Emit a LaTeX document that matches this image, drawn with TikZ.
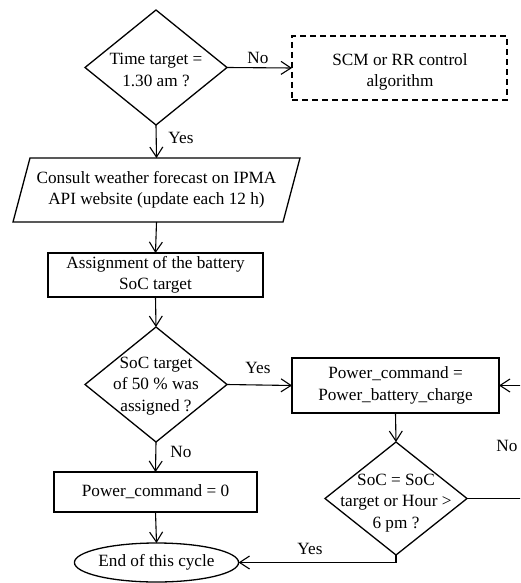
\documentclass[tikz,border=0pt]{standalone}
\usepackage{fontspec}
\setmainfont{Liberation Serif}
\usetikzlibrary{shapes.geometric,arrows.meta}
\begin{document}
\begin{tikzpicture}[x=1pt,y=-1pt,
  every node/.style={font=\fontsize{17.2}{21.5}\selectfont},
  box/.style={draw,line width=1.3pt,rectangle,inner sep=0pt,outer sep=0pt,align=center},
  dbox/.style={box,dashed,dash pattern=on 6pt off 4pt},
  dia/.style={draw,line width=1.3pt,diamond,inner sep=0pt,outer sep=0pt,minimum width=142pt},
  txt/.style={align=center,inner sep=0pt},
  lbl/.style={inner sep=0pt},
  arr/.style={line width=1.1pt,-{Straight Barb[length=10pt,width=13pt,line width=1.1pt]}},
  ln/.style={line width=1.1pt}]
\useasboundingbox (0,0) rectangle (520,583);
\clip (0,0) rectangle (520,583);
% nodes
\node[dia,minimum height=115pt] (d1) at (156,67.5) {};
\node[txt] (t1) at (156,70) {Time target =\\1.30 am ?};
\node[dbox,minimum width=215pt,minimum height=64pt] (sc) at (399.5,68) {};
\node[txt] (tsc) at (400,72) {SCM or RR control\\algorithm};
\node[rectangle,inner sep=0pt,outer sep=0pt,minimum width=270pt,minimum height=64pt,align=center] (pg) at (156.5,190) {Consult weather forecast on IPMA\\API website (update each 12 h)};
\draw[line width=1.3pt] ([xshift=8.5pt]pg.north west) -- ([xshift=8.5pt]pg.north east) -- ([xshift=-8.5pt]pg.south east) -- ([xshift=-8.5pt]pg.south west) -- cycle;
\node[box,minimum width=215pt,minimum height=44pt] (as) at (155.5,275) {Assignment of the battery\\SoC target};
\node[dia,minimum height=115pt] (d2) at (156,384.5) {};
\node[txt] (t2) at (156,386) {SoC target\\of 50 \% was\\assigned ?};
\node[box,minimum width=207pt,minimum height=55pt] (pw) at (395.5,385.5) {Power\_command =\\Power\_battery\_charge};
\node[dia,minimum height=113pt] (d3) at (396,498.5) {};
\node[txt] (t3) at (396,503) {SoC = SoC\\target or Hour >\\6 pm ?};
\node[box,minimum width=203pt,minimum height=40pt] (pz) at (155.5,492) {Power\_command = 0};
\node[draw,line width=1.3pt,ellipse,inner sep=0pt,outer sep=0pt,minimum width=157pt,minimum height=39pt] (en) at (156.5,562.5) {End of this cycle};
\coordinate (lr) at (560,498.5);
% connectors
\draw[arr] (d1.east) -- (sc.west);
\draw[arr] (d1.south) -- (pg.north);
\draw[arr] (pg.south) -- (as.north);
\draw[arr] (as.south) -- (d2.north);
\draw[arr] (d2.east) -- (pw.west);
\draw[arr] (d2.south) -- (pz.north);
\draw[arr] (pz.south) -- (en.north);
\draw[arr] (pw.south) -- (d3.north);
\draw[arr] (d3.south) |- (en.east);
\draw[arr] (d3.east) -- (lr) |- (pw.east);
% labels
\node[lbl] (l1) at (258,58) {No};
\node[lbl] (l2) at (181,138) {Yes};
\node[lbl] (l3) at (258,368) {Yes};
\node[lbl] (l4) at (181,452) {No};
\node[lbl] (l5) at (507,446) {No};
\node[lbl] (l6) at (310,549) {Yes};
\end{tikzpicture}
\end{document}
